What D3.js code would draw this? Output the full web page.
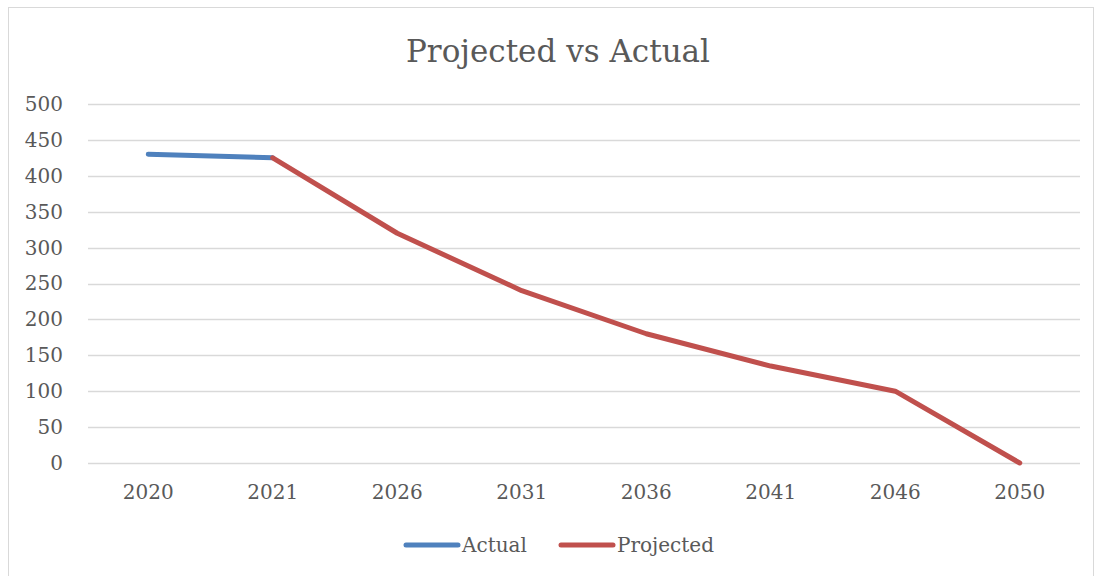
<!DOCTYPE html>
<html><head><meta charset="utf-8">
<script src="https://cdn.jsdelivr.net/npm/d3@7"></script>
<style>body{margin:0;background:#fff}svg{display:block}</style>
</head><body>
<svg id="c" width="1096" height="576"></svg>
<script>
const categories = ["2020","2021","2026","2031","2036","2041","2046","2050"];
const actual = [430, 425, null, null, null, null, null, null];
const projected = [null, 425, 320, 240, 180, 135, 100, 0];
const yTicks = [0,50,100,150,200,250,300,350,400,450,500];
const seriesNames = ["Actual","Projected"];
const colors = ["#4F81BD","#C0504D"];

const svg = d3.select("#c");
const font = "'DejaVu Serif', serif";
svg.append("rect").attr("x",8.5).attr("y",7.5).attr("width",1085).attr("height",580)
  .attr("fill","#fff").attr("stroke","#d9d9d9");

const x = d3.scaleBand().domain(categories).range([86,1082]);
const y = d3.scaleLinear().domain([0,500]).range([463,104]);

svg.append("g").selectAll("line").data(yTicks).join("line")
  .attr("x1",88).attr("x2",1080)
  .attr("y1",d=>Math.round(y(d))+0.5).attr("y2",d=>Math.round(y(d))+0.5)
  .attr("stroke","#d9d9d9").attr("stroke-width",1.5);

const yAxis = svg.append("g").attr("transform","translate(88,0)")
  .call(d3.axisLeft(y).tickValues(yTicks).tickSize(0).tickPadding(25));
yAxis.select(".domain").remove();
yAxis.selectAll("text").attr("font-family",font).attr("font-size",20).attr("fill","#595959");

const xAxis = svg.append("g").attr("transform","translate(0,463)")
  .call(d3.axisBottom(x).tickSize(0).tickPadding(22));
xAxis.select(".domain").remove();
xAxis.selectAll("text").attr("font-family",font).attr("font-size",20).attr("fill","#595959");

const line = d3.line().defined(d=>d!=null).x((d,i)=>x(categories[i])+x.bandwidth()/2).y(d=>y(d));
[actual, projected].forEach((s,k)=>{
  svg.append("path").datum(s).attr("d",line).attr("fill","none")
    .attr("stroke",colors[k]).attr("stroke-width",5).attr("stroke-linecap","round").attr("stroke-linejoin","round");
});

svg.append("text").attr("x",558).attr("y",62).attr("text-anchor","middle")
  .attr("font-family",font).attr("font-size",31).attr("fill","#595959").text("Projected vs Actual");

const legX = [406, 561];
seriesNames.forEach((n,k)=>{
  const g = svg.append("g");
  g.append("line").attr("x1",legX[k]).attr("x2",legX[k]+52).attr("y1",545).attr("y2",545)
    .attr("stroke",colors[k]).attr("stroke-width",5).attr("stroke-linecap","round");
  g.append("text").attr("x",legX[k]+56).attr("y",552).attr("font-family",font).attr("font-size",20)
    .attr("fill","#595959").text(n);
});
</script>
</body></html>
